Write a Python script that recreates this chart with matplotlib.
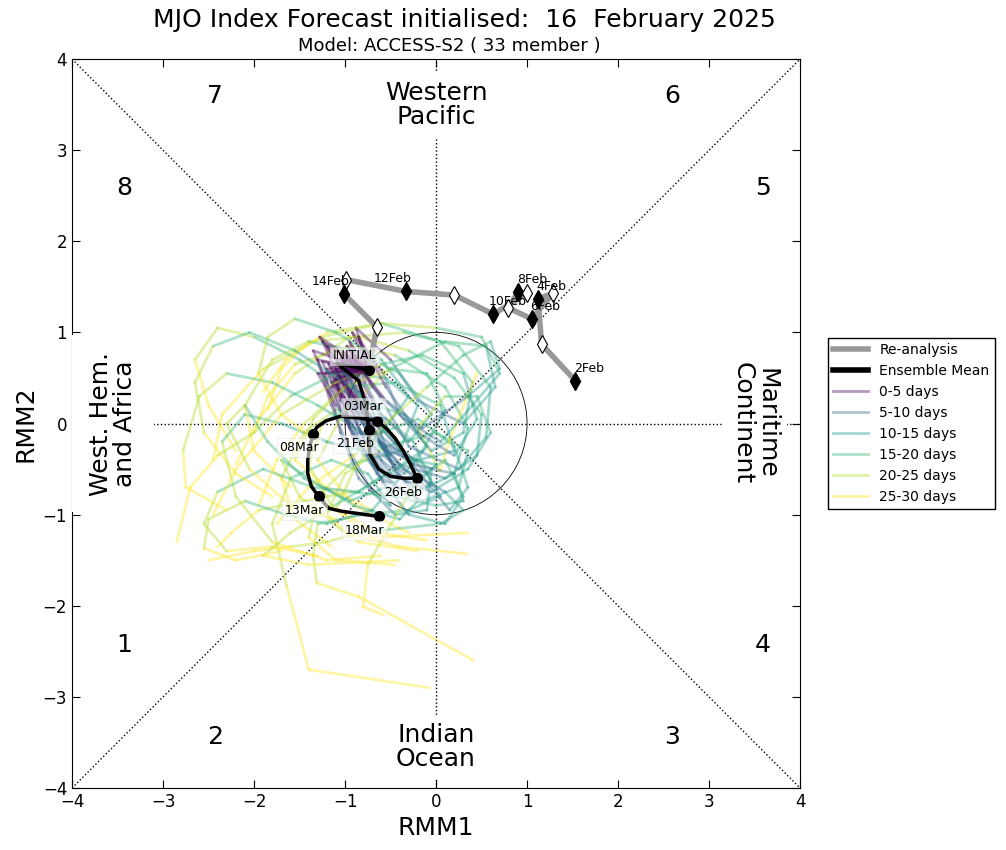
"""MJO phase diagram - ACCESS-S2 forecast"""

import matplotlib
matplotlib.use("Agg")
import matplotlib.pyplot as plt
from matplotlib.lines import Line2D
from matplotlib.patches import Circle

plt.rcParams["font.family"] = ["DejaVu Sans"]

# ── re-analysis (2Feb .. 16Feb, daily) ─────────────────
re_x = [1.53, 1.16, 1.12, 1.29, 1.05, 0.79, 0.90, 1.00, 0.63, 0.20, -0.33, -0.99, -1.01, -0.65, -0.74]
re_y = [0.47, 0.87, 1.37, 1.43, 1.15, 1.27, 1.44, 1.43, 1.20, 1.41, 1.45, 1.58, 1.42, 1.06, 0.59]
re_labels = ["2Feb", "", "4Feb", "", "6Feb", "", "8Feb", "", "10Feb", "", "12Feb", "", "14Feb", "", ""]

# ── ensemble mean (16Feb .. 18Mar, daily) ──────────────
em_x = [-0.74, -1.09, -0.95, -0.85, -0.77, -0.74, -0.73, -0.63, -0.50, -0.35, -0.21,
        -0.28, -0.36, -0.45, -0.55, -0.65, -0.84, -1.05, -1.21, -1.31, -1.35,
        -1.39, -1.41, -1.41, -1.37, -1.29, -1.18, -1.05, -0.91, -0.77, -0.63]
em_y = [0.59, 0.66, 0.55, 0.47, 0.20, -0.07, -0.33, -0.50, -0.58, -0.60, -0.60,
        -0.45, -0.30, -0.16, -0.05, 0.03, 0.06, 0.08, 0.03, -0.04, -0.11,
        -0.26, -0.40, -0.55, -0.69, -0.80, -0.93, -0.96, -0.98, -1.00, -1.02]
em_labels = ["INITIAL", "21Feb", "26Feb", "03Mar", "08Mar", "13Mar", "18Mar"]
em_label_up = [True, False, False, True, False, False, False]

# ── ensemble members (lead days below) ─────────────────
lead_days = [0, 2, 5, 7, 10, 12, 15, 17, 20, 22, 25, 27, 30]
member_x = [
    [-0.74, -1.05, -0.80, -0.55, -0.10, 0.20, 0.35, 0.10, -0.45, -0.95, -1.55, -1.85, -2.00],
    [-0.74, -1.15, -0.95, -0.70, -0.30, -0.05, -0.25, -0.60, -1.10, -1.45, -1.70, -1.55, -1.15],
    [-0.74, -0.98, -0.62, -0.30, 0.25, 0.55, 0.60, 0.25, -0.35, -0.95, -1.55, -1.95, -2.20],
    [-0.74, -1.22, -1.05, -0.85, -0.45, -0.10, -0.05, -0.40, -0.95, -1.30, -1.40, -1.10, -0.45],
    [-0.74, -0.92, -0.58, -0.40, -0.05, 0.30, 0.40, 0.05, -0.60, -1.25, -1.90, -2.35, -2.45],
    [-0.74, -1.10, -0.90, -0.60, -0.15, 0.25, 0.35, 0.00, -0.55, -1.00, -1.20, -0.85, -0.20],
    [-0.74, -1.05, -0.75, -0.40, 0.10, 0.45, 0.50, 0.20, -0.30, -0.85, -1.40, -1.70, -1.85],
    [-0.74, -1.30, -1.15, -0.95, -0.70, -0.50, -0.75, -1.15, -1.60, -1.80, -1.64, -1.40, -0.07],
    [-0.74, -1.00, -0.70, -0.45, -0.10, 0.05, -0.30, -0.80, -1.30, -1.35, -1.31, -0.85, 0.41],
    [-0.74, -1.25, -1.00, -0.80, -0.50, -0.80, -1.30, -1.80, -2.30, -2.60, -2.78, -2.75, -2.30],
    [-0.74, -1.15, -0.85, -0.55, -0.25, -0.55, -1.00, -1.50, -2.00, -2.40, -2.65, -2.50, -2.20],
    [-0.74, -1.05, -0.70, -0.35, 0.10, 0.30, 0.05, -0.40, -0.85, -1.20, -1.60, -2.00, -2.50],
    [-0.74, -0.88, -0.50, -0.20, 0.30, 0.65, 0.55, 0.10, -0.50, -1.00, -1.30, -0.90, -0.30],
    [-0.74, -1.35, -1.20, -1.00, -0.80, -1.20, -1.70, -2.10, -2.35, -2.20, -1.80, -1.20, -0.60],
    [-0.74, -1.10, -0.65, -0.30, 0.15, 0.35, 0.20, -0.20, -0.60, -0.90, -1.10, -0.70, 0.35],
    [-0.74, -0.95, -0.78, -0.60, -0.30, -0.05, -0.40, -0.90, -1.40, -1.80, -2.10, -2.00, -1.60],
    [-0.74, -1.20, -0.90, -0.55, -0.20, 0.20, 0.05, -0.45, -1.00, -1.35, -1.55, -1.20, -0.70],
    [-0.74, -1.00, -0.72, -0.50, -0.20, -0.40, -0.90, -1.40, -1.70, -1.50, -1.00, -0.40, 0.34],
    [-0.74, -1.10, -0.80, -0.50, -0.05, 0.35, 0.60, 0.45, 0.10, -0.20, 0.04, 0.15, 0.45],
    [-0.74, -1.05, -0.95, -0.80, -0.55, -0.85, -1.35, -1.90, -2.40, -2.55, -2.30, -1.80, -1.30],
    [-0.74, -1.18, -0.95, -0.65, -0.30, 0.10, 0.30, 0.10, -0.20, -0.55, -0.75, -0.80, -0.58],
    [-0.74, -1.30, -1.10, -0.85, -0.40, -0.20, -0.55, -1.10, -1.60, -2.00, -2.40, -2.70, -2.85],
    [-0.74, -0.85, -0.55, -0.20, 0.20, 0.45, 0.30, -0.15, -0.60, -1.10, -1.70, -2.20, -2.45],
    [-0.74, -1.12, -0.88, -0.60, -0.25, 0.00, -0.25, -0.70, -1.20, -1.60, -1.90, -1.40, -0.40],
    [-0.74, -1.02, -0.85, -0.70, -0.45, -0.15, 0.10, -0.10, -0.50, -1.00, -1.45, -1.75, -1.95],
    [-0.74, -1.25, -1.05, -0.75, -0.35, -0.10, -0.35, -0.85, -1.25, -1.40, -1.15, -0.65, -0.10],
    [-0.74, -0.95, -0.70, -0.35, 0.05, 0.40, 0.70, 0.50, 0.00, -0.60, -1.20, -1.65, -1.90],
    [-0.74, -1.15, -0.95, -0.75, -0.55, -0.95, -1.45, -1.85, -2.10, -2.30, -2.05, -1.60, -1.10],
    [-0.74, -1.08, -0.65, -0.25, 0.20, 0.30, 0.00, -0.45, -0.95, -1.45, -1.95, -2.25, -2.40],
    [-0.74, -1.20, -0.98, -0.80, -0.60, -0.30, -0.60, -1.10, -1.55, -1.85, -1.95, -1.70, -1.30],
    [-0.74, -1.28, -1.10, -0.90, -0.65, -1.00, -1.55, -2.05, -2.45, -2.65, -2.55, -2.20, -1.80],
    [-0.74, -0.90, -0.55, -0.15, 0.35, 0.70, 0.60, 0.30, -0.10, -0.50, -0.90, -1.40, -1.75],
    [-0.74, -1.10, -0.85, -0.65, -0.40, -0.70, -1.20, -1.65, -2.10, -2.50, -2.55, -2.20, -1.70],
]
member_y = [
    [0.59, 0.72, 0.15, -0.35, -0.70, -0.55, -0.05, 0.40, 0.75, 0.85, 0.65, 0.30, -0.10],
    [0.59, 0.62, 0.00, -0.45, -0.80, -0.65, -0.20, 0.10, 0.15, -0.10, -0.60, -1.05, -1.35],
    [0.59, 0.85, 0.30, -0.25, -0.50, -0.15, 0.40, 0.85, 1.00, 0.95, 0.55, 0.05, -0.45],
    [0.59, 0.55, -0.10, -0.60, -1.00, -0.95, -0.50, -0.30, -0.45, -0.80, -1.25, -1.50, -1.55],
    [0.59, 1.00, 0.55, 0.10, -0.30, -0.10, 0.45, 0.90, 1.10, 0.95, 0.60, 0.10, -0.40],
    [0.59, 0.48, -0.20, -0.60, -0.85, -0.70, -0.30, -0.10, -0.25, -0.55, -1.00, -1.30, -1.40],
    [0.59, 0.60, -0.05, -0.45, -0.60, -0.35, 0.10, 0.50, 0.80, 0.95, 0.90, 0.60, 0.15],
    [0.59, 0.70, 0.20, -0.30, -0.75, -0.90, -0.55, -0.40, -0.60, -1.10, -1.79, -2.70, -2.90],
    [0.59, 0.78, 0.25, -0.20, -0.55, -0.80, -0.95, -1.00, -1.10, -1.45, -1.75, -1.90, -2.60],
    [0.59, 0.90, 0.40, 0.00, -0.35, -0.10, 0.20, 0.45, 0.55, 0.30, -0.30, -0.70, -0.95],
    [0.59, 0.45, 0.10, -0.25, -0.45, -0.10, 0.35, 0.70, 0.95, 1.05, 0.70, 0.20, -0.30],
    [0.59, 0.65, -0.10, -0.50, -0.75, -0.95, -1.10, -1.15, -1.20, -1.30, -1.35, -1.40, -1.50],
    [0.59, 1.05, 0.70, 0.25, 0.00, 0.40, 0.85, 0.90, 0.60, 0.15, -0.40, -0.90, -1.20],
    [0.59, 0.80, 0.45, 0.05, -0.30, -0.20, 0.00, 0.10, -0.20, -0.80, -1.30, -1.50, -1.45],
    [0.59, 0.55, 0.00, -0.40, -0.95, -0.70, -0.25, 0.05, -0.10, -0.50, -0.95, -1.25, -1.20],
    [0.59, 0.90, 0.45, 0.10, -0.20, 0.10, 0.55, 0.80, 0.90, 0.70, 0.20, -0.30, -0.70],
    [0.59, 0.60, 0.10, -0.30, -0.40, -0.30, 0.20, 0.45, 0.40, 0.05, -0.40, -0.70, -0.95],
    [0.59, 0.70, 0.20, -0.40, -0.85, -1.05, -0.90, -0.60, -0.40, -0.80, -1.20, -1.35, -1.43],
    [0.59, 0.50, -0.15, -0.55, -0.75, -0.50, -0.10, 0.30, 0.30, -0.05, -0.52, -0.18, 0.56],
    [0.59, 0.75, 0.30, -0.20, -0.55, -0.75, -0.70, -0.50, -0.75, -1.10, -1.40, -1.35, -1.45],
    [0.59, 0.65, 0.05, -0.55, -1.00, -1.10, -0.80, -0.40, -0.60, -1.20, -1.55, -2.01, -2.10],
    [0.59, 0.55, 0.20, -0.10, -0.30, 0.20, 0.50, 0.55, 0.30, -0.10, -0.35, -0.70, -1.30],
    [0.59, 0.95, 0.40, -0.10, -0.35, 0.05, 0.55, 0.75, 0.65, 0.45, 0.10, -0.50, -1.00],
    [0.59, 0.58, 0.15, -0.40, -0.70, -0.45, -0.40, -0.65, -0.95, -1.20, -1.45, -1.55, -1.50],
    [0.59, 0.68, 0.35, -0.05, -0.50, -0.30, 0.15, 0.55, 0.60, 0.40, 0.00, -0.40, -0.90],
    [0.59, 0.68, 0.25, -0.20, -0.55, -0.25, 0.10, 0.25, 0.00, -0.45, -0.90, -1.20, -1.28],
    [0.59, 0.80, 0.40, 0.05, -0.20, 0.20, 0.55, 0.95, 1.05, 1.10, 1.00, 0.70, 0.35],
    [0.59, 0.40, -0.05, -0.35, -0.70, -0.85, -0.60, -0.20, 0.20, 0.00, -0.50, -0.90, -1.05],
    [0.59, 0.52, -0.10, -0.45, -0.55, -0.85, -0.90, -0.80, -0.75, -0.85, -0.95, -1.20, -1.35],
    [0.59, 0.85, 0.55, 0.20, -0.10, 0.30, 0.70, 1.00, 1.15, 0.95, 0.55, 0.10, -0.20],
    [0.59, 0.95, 0.70, 0.40, 0.15, 0.45, 0.80, 1.00, 0.85, 0.45, -0.10, -0.55, -0.80],
    [0.59, 0.70, 0.25, -0.05, 0.30, 0.60, 0.90, 0.75, 0.40, 0.05, -0.35, -0.70, -1.10],
    [0.59, 0.60, 0.20, -0.15, -0.60, -0.95, -1.10, -1.00, -0.85, -1.05, -1.37, -1.50, -1.40],
]

bin_labels = ["0-5 days", "5-10 days", "10-15 days", "15-20 days", "20-25 days", "25-30 days"]
bin_colors = ["#440154", "#31688e", "#1f9e89", "#35b779", "#b5de2b", "#fde725"]

phase_labels = ["1", "2", "3", "4", "5", "6", "7", "8"]
phase_pos = [(-3.43, -2.43), (-2.43, -3.44), (2.59, -3.44), (3.59, -2.43),
             (3.59, 2.58), (2.59, 3.59), (-2.43, 3.59), (-3.43, 2.58)]

fig = plt.figure(figsize=(10.06, 8.5), dpi=100)
ax = fig.add_axes([0.0716, 0.0729, 0.7237, 0.8576])

# 背景线
ax.plot([-4, 4], [-4, 4], "k:", lw=1)
ax.plot([-4, 4], [4, -4], "k:", lw=1)
ax.plot([-4, 4], [0, 0], "k:", lw=1)
ax.plot([0, 0], [-4, 4], "k:", lw=1)
ax.add_patch(Circle((0, 0), 1.0, fill=False, ec="k", lw=0.6))

# 区域名称
box = dict(facecolor="white", edgecolor="none", pad=6)
ax.text(0, 3.5, "Western\nPacific", ha="center", va="center", fontsize=18, bbox=box, linespacing=1.0)
ax.text(0, -3.55, "Indian\nOcean", ha="center", va="center", fontsize=18, bbox=box, linespacing=1.0)
ax.text(-3.55, 0, "West. Hem.\nand Africa", ha="center", va="center", rotation=90,
        fontsize=18, bbox=dict(facecolor="white", edgecolor="none", pad=12), linespacing=1.0)
ax.text(3.5, 0, "Maritime\nContinent", ha="center", va="center", rotation=-90,
        fontsize=18, bbox=dict(facecolor="white", edgecolor="none", pad=6), linespacing=1.0)
for lab, (px, py) in zip(phase_labels, phase_pos):
    ax.text(px, py, lab, ha="center", va="center", fontsize=18)

# 集合成员
for mx, my in zip(member_x, member_y):
    for i in range(len(lead_days) - 1):
        b = lead_days[i] // 5
        ax.plot(mx[i:i + 2], my[i:i + 2], color=bin_colors[b], alpha=0.4, lw=2,
                solid_capstyle="round")

# 再分析
ax.plot(re_x, re_y, color="#999999", lw=4, zorder=5)
for i, (x, y) in enumerate(zip(re_x[:-1], re_y[:-1])):
    if i % 2 == 0:
        ax.plot(x, y, marker="d", ms=9, mfc="k", mec="k", zorder=6)
        dx = 10 if x > 0 else -10
        ax.annotate(re_labels[i], (x, y), xytext=(dx, 9), textcoords="offset points",
                    ha="center", va="center", fontsize=9, zorder=7)
    else:
        ax.plot(x, y, marker="d", ms=9, mfc="white", mec="k", mew=0.8, zorder=6)

# 集合平均
ax.plot(em_x, em_y, color="k", lw=2.5, zorder=8)
for j, k in enumerate(range(0, len(em_x), 5)):
    ax.plot(em_x[k], em_y[k], "o", color="k", ms=7, zorder=9)
    dy = 10 if em_label_up[j] else -10
    ax.annotate(em_labels[j], (em_x[k], em_y[k]), xytext=(-10, dy), textcoords="offset points",
                ha="center", va="center", fontsize=9, zorder=10,
                bbox=dict(facecolor="white", edgecolor="#dddddd", alpha=0.6, pad=2, lw=0.5))

ax.set_xlim(-4, 4)
ax.set_ylim(-4, 4)
ax.set_xticks(range(-4, 5))
ax.set_yticks(range(-4, 5))
ax.tick_params(direction="in", top=True, right=True, labelsize=12, length=6)
ax.set_xlabel("RMM1", fontsize=18)
ax.set_ylabel("RMM2", fontsize=18)

fig.text(0.462, 0.976, "MJO Index Forecast initialised:  16  February 2025",
         ha="center", va="center", fontsize=18)
fig.text(0.447, 0.946, "Model: ACCESS-S2 ( 33 member )", ha="center", va="center", fontsize=13)

handles = [Line2D([], [], color="#999999", lw=4), Line2D([], [], color="k", lw=4)]
handles += [Line2D([], [], color=c, lw=2, alpha=0.4) for c in bin_colors]
labels = ["Re-analysis", "Ensemble Mean"] + bin_labels
ax.legend(handles, labels, loc="center left", bbox_to_anchor=(1.038, 0.5), fontsize=10,
          fancybox=False, edgecolor="k", framealpha=1, borderaxespad=0, handlelength=2.5)

fig.savefig("out.png", dpi=100)
